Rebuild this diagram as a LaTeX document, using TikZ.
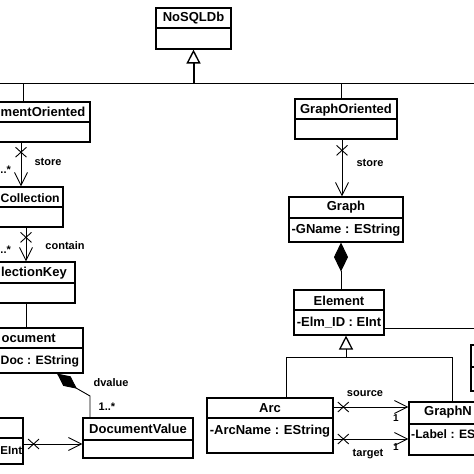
\documentclass[tikz,border=0pt]{standalone}
\usepackage{fontspec}
\setmainfont{Liberation Sans}
\usetikzlibrary{arrows.meta,shapes.misc,fit}
\begin{document}
\begin{tikzpicture}[x=1pt,y=-1pt,
  box/.style={draw, line width=1.1pt, rectangle, inner sep=0pt},
  ttl/.style={font=\fontsize{13}{15}\selectfont\bfseries, inner sep=0pt},
  ttls/.style={font=\fontsize{12.2}{14}\selectfont\bfseries, inner sep=0pt},
  lbl/.style={font=\fontsize{11}{13}\selectfont\bfseries, inner sep=0pt},
  tiny/.style={font=\fontsize{10}{11}\selectfont\bfseries, inner sep=0pt},
  conn/.style={line width=0.9pt},
  nav/.style={conn, -{Straight Barb[length=13pt,width=13pt,line width=0.9pt]}},
  xmk/.style={draw, cross out, minimum width=10pt, minimum height=9pt, inner sep=0pt, line width=0.9pt},
  gen/.style={conn, -{Triangle[open,length=14pt,width=14pt,line width=1.3pt]}},
]
\newcommand\classbox[6]{%
  \node[box, fit={(#2,#3) (#4,#5)}] (#1) {};
  \draw[line width=1.1pt] (#2,#6) -- (#4,#6);}
\useasboundingbox (0,0) rectangle (474,474);
\clip (0,0) rectangle (474,474);

% ---- classes ----
\classbox{nosql}{156}{8}{231}{49}{28}
\node[ttl] (nosqlT) at (193.5,18) {NoSQLDb};

\classbox{docor}{-60}{102}{90}{142}{122}
\node[ttl, anchor=west] (docorT) at (0.5,112) {mentOriented};

\classbox{coll}{-60}{187}{63}{227}{207}
\node[ttls, anchor=west] (collT) at (0.5,198) {Collection};

\classbox{ckey}{-60}{262}{75}{303}{283}
\node[ttl, anchor=east] (ckeyT) at (67,273) {lectionKey};

\classbox{docu}{-60}{328}{83}{373}{348}
\node[ttl, anchor=east] (docuT) at (56,338) {ocument};
\node[ttls, anchor=west] (docuA) at (0.5,361) {Doc : EString};

\classbox{dval}{83}{418}{193}{458}{440}
\node[ttl] (dvalT) at (138,429) {DocumentValue};

\classbox{eint}{-60}{418}{23}{464}{438}
\node[font=\fontsize{11.5}{13}\selectfont\bfseries, inner sep=0pt, anchor=west] (eintA) at (0.3,451) {EInt};

\classbox{gor}{295}{99}{397}{139}{119}
\node[ttl] (gorT) at (346,110) {GraphOriented};

\classbox{graph}{289}{197}{403}{242}{218}
\node[ttl] (graphT) at (346,207) {Graph};
\node[ttl] (graphA) at (346,230) {-GName : EString};

\classbox{elem}{294}{290}{384}{335}{310}
\node[ttl] (elemT) at (339,301) {Element};
\node[ttl] (elemA) at (339,323) {-Elm\_ID : EInt};

\classbox{arc}{207}{398}{333}{453}{418}
\node[ttl] (arcT) at (270,408) {Arc};
\node[ttl] (arcA) at (270,431) {-ArcName : EString};

\classbox{gnode}{409}{402}{530}{455}{424}
\node[ttl, anchor=west] (gnodeT) at (424,412) {GraphN};
\node[ttls, anchor=west] (gnodeA) at (411,434) {-Label : ES};

\classbox{rbox}{471}{345}{530}{391}{367}

% ---- connectors ----
\coordinate (busL) at (0,83);
\coordinate (busR) at (474,83);
\draw[conn] (busL) -- (busR);
\draw[line width=2pt, -{Triangle[open,length=14pt,width=14pt,line width=1.4pt]}] (nosql.south |- busL) -- (nosql.south);
\coordinate (b1) at (23,83);
\draw[conn] (b1) -- (b1 |- docor.north);
\coordinate (b2) at (341,83);
\draw[conn] (b2) -- (b2 |- gor.north);

\coordinate (s1) at (21,0);
\draw[nav] (s1 |- docor.south) -- node[xmk,pos=0.22]{} (s1 |- coll.north);
\coordinate (s2) at (26,0);
\draw[nav] (s2 |- coll.south) -- node[xmk,pos=0.29]{} (s2 |- ckey.north);
\draw[conn] (s2 |- ckey.south) -- (s2 |- docu.north);

\coordinate (d1) at (90,0);
\coordinate (d2) at (57,0);
\draw[conn, -{Diamond[length=25pt,width=12pt]}] (d1 |- dval.north) -- (90,396) -- (76,388) -- (d2 |- docu.south);

\coordinate (e1) at (0,444);
\draw[nav] (eint.east |- e1) -- node[xmk,pos=0.17]{} (dval.west |- e1);

\coordinate (s3) at (342,0);
\draw[nav] (s3 |- gor.south) -- node[xmk,pos=0.19]{} (s3 |- graph.north);
\coordinate (c8) at (341,0);
\draw[conn, -{Diamond[length=29pt,width=14pt]}] (c8 |- elem.north) -- (c8 |- graph.south);

\coordinate (g1) at (346,357);
\coordinate (c9) at (286,0);
\coordinate (c10) at (452,0);
\draw[gen] (c9 |- arc.north) |- (g1) -- (g1 |- elem.south);
\draw[conn] (c10 |- gnode.north) |- (g1);

\coordinate (eR) at (474,328);
\draw[conn] (elem.east |- eR) -- (eR);

\coordinate (sy) at (0,407);
\coordinate (ty) at (0,439);
\draw[nav] (arc.east |- sy) -- node[xmk,pos=0.13]{} (gnode.west |- sy);
\draw[nav] (arc.east |- ty) -- node[xmk,pos=0.13]{} (gnode.west |- ty);

% ---- labels ----
\node[lbl] (l1) at (48,162) {store};
\node[lbl, anchor=west] (l2) at (0.3,170) {..*};
\node[lbl] (l3) at (65,246) {contain};
\node[lbl, anchor=west] (l4) at (0.3,250) {..*};
\node[lbl] (l5) at (111,383) {dvalue};
\node[lbl] (l6) at (107,407) {1..*};
\node[lbl] (l7) at (370,163) {store};
\node[lbl] (l8) at (365,394) {source};
\node[lbl] (l9) at (368,454) {target};
\node[tiny] (l10) at (396,418) {1};
\node[tiny] (l11) at (396,447) {1};
\end{tikzpicture}
\end{document}
